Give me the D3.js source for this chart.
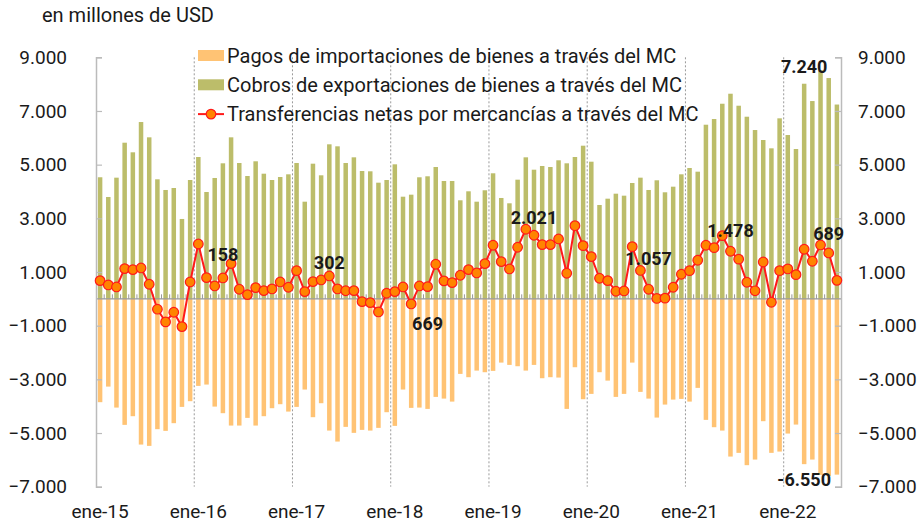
<!DOCTYPE html>
<meta charset="utf-8">
<script src="https://d3js.org/d3.v7.min.js"></script>
<style>
  body { margin: 0; background: #fff; }
  text { font-family: Roboto, "Liberation Sans", sans-serif; fill: #1a1a1a; }
</style>
<div id="my_dataviz"></div>
<script>

// categorias: meses de ene-15 a jul-22
var mesesAbrev = ["ene","feb","mar","abr","may","jun","jul","ago","sep","oct","nov","dic"];
var anios = ["15","16","17","18","19","20","21","22"];
var meses = [];
anios.forEach(function(a) {
  mesesAbrev.forEach(function(m) { meses.push(m + "-" + a); });
});
meses = meses.slice(0, 91);

// Cobros de exportaciones (millones USD)
var cobros = [
  4530, 3795, 4515, 5818, 5460, 6588, 6018, 4454, 4056, 4130, 2976, 4428,
  5285, 3981, 4503, 5050, 6018, 5061, 4577, 5125, 4663, 4428, 4540, 4640,
  5061, 3620, 5036, 4603, 5758, 5683, 5061, 5273, 4763, 4752, 4328, 4428,
  5012, 3806, 3881, 4529, 4566, 4912, 4391, 4391, 3672, 4007, 3620, 4045,
  4678, 3758, 3560, 4440, 5273, 4812, 4950, 4912, 5162, 5050, 5285, 5706,
  5110, 3497, 3732, 3918, 3844, 4316, 4515, 4056, 4417, 3970, 4179, 4640,
  4875, 4738, 6488, 6700, 7270, 7643, 7196, 6786, 6290, 5918, 5608, 6726,
  6104, 5583, 8015, 7370, 8520, 8227, 7240
];

// Pagos de importaciones (millones USD)
var pagos = [
  -3851, -3270, -4052, -4696, -4373, -5430, -5479, -4857, -4920, -4633, -4026, -3814,
  -3244, -3194, -4015, -4261, -4722, -4722, -4436, -4722, -4373, -4075, -3926, -4201,
  -4026, -3380, -4410, -3889, -4909, -5318, -4771, -4994, -4883, -4909, -4808, -4224,
  -4734, -3380, -4063, -4052, -4101, -3654, -3717, -3829, -2797, -2920, -2674, -2734,
  -2685, -2376, -2462, -2511, -2674, -2462, -2958, -2920, -2933, -4101, -2548, -3740,
  -3542, -2734, -3047, -3654, -3542, -2376, -3467, -3717, -4424, -3940, -3754, -3728,
  -3829, -3318, -4510, -4783, -4909, -5877, -5739, -6198, -5989, -4559, -5739, -5691,
  -5020, -4685, -6160, -5989, -6559, -6596, -6550
];

// Transferencias netas (millones USD)
var netas = [
  678, 518, 443, 1126, 1088, 1151, 543, -387, -860, -500, -1035, 629,
  2045, 790, 480, 778, 1311, 357, 158, 417, 305, 369, 629, 432,
  1050, 268, 641, 704, 853, 369, 302, 305, -104, -141, -488, 208,
  268, 443, -190, 480, 455, 1289, 669, 604, 879, 1088, 965, 1311,
  1996, 1386, 1114, 1922, 2592, 2369, 2021, 2019, 2231, 953, 2726, 1981,
  1572, 767, 678, 283, 294, 1944, 1057, 357, 15, 25, 432, 916,
  1050, 1437, 1996, 1907, 2354, 1773, 1478, 618, 300, 1374, -127, 1050,
  1114, 901, 1847, 1400, 2007, 1709, 689
];

var yTicks = [9000, 7000, 5000, 3000, 1000, -1000, -3000, -5000, -7000];
var xTickLabels = ["ene-15","ene-16","ene-17","ene-18","ene-19","ene-20","ene-21","ene-22"];

// etiquetas de datos (julio de cada anio)
var etiquetas = [
  {mes: "abr-16", valor: 1635, texto: "158"},
  {mes: "may-17", valor: 1337, texto: "302"},
  {mes: "may-18", valor: -935, texto: "669"},
  {mes: "jun-19", valor: 3013, texto: "2.021"},
  {mes: "ago-20", valor: 1505, texto: "1.057"},
  {mes: "jun-21", valor: 2529, texto: "1.478"},
  {mes: "jun-22", valor: 2436, texto: "689"},
  {mes: "mar-22", valor: 8674, texto: "7.240"},
  {mes: "mar-22", valor: -6734, texto: "-6.550"}
];

var series = [
  {nombre: "Pagos de importaciones de bienes a través del MC", tipo: "bar", color: "#FFC374"},
  {nombre: "Cobros de exportaciones de bienes a través del MC", tipo: "bar", color: "#BCBD6A"},
  {nombre: "Transferencias netas por mercancías a través del MC", tipo: "line", color: "#FF1A1A"}
];

var width = 918, height = 526;
var plotLeft = 96, plotRight = 841;

var svg = d3.select("#my_dataviz")
  .append("svg")
    .attr("width", width)
    .attr("height", height);

var x = d3.scaleBand()
  .domain(meses)
  .range([plotLeft, plotRight])
  .padding(0);

var y = d3.scaleLinear()
  .domain([-7000, 9000])
  .range([486.7, 57.3]);

var barW = x.step() * 0.55;
var fmt = function(v) { return d3.format(",")(v).replace(/,/g, "."); };
var centro = function(m) { return x(m) + x.bandwidth() / 2; };

// lineas punteadas entre anios
svg.append("g")
  .selectAll("line")
  .data(xTickLabels.slice(1))
  .enter()
  .append("line")
    .attr("x1", function(d) { return x(d); })
    .attr("x2", function(d) { return x(d); })
    .attr("y1", y(9000))
    .attr("y2", y(-7000))
    .attr("stroke", "#9a9a9a")
    .attr("stroke-width", 1)
    .attr("stroke-dasharray", "2,2");

// barras de pagos
svg.append("g")
  .selectAll("rect")
  .data(pagos)
  .enter()
  .append("rect")
    .attr("x", function(d, i) { return centro(meses[i]) - barW / 2; })
    .attr("y", y(0))
    .attr("width", barW)
    .attr("height", function(d) { return y(d) - y(0); })
    .style("fill", series[0].color);

// barras de cobros
svg.append("g")
  .selectAll("rect")
  .data(cobros)
  .enter()
  .append("rect")
    .attr("x", function(d, i) { return centro(meses[i]) - barW / 2; })
    .attr("y", function(d) { return y(d); })
    .attr("width", barW)
    .attr("height", function(d) { return y(0) - y(d); })
    .style("fill", series[1].color);

// eje horizontal en cero con marcas entre meses
svg.append("line")
  .attr("x1", plotLeft).attr("x2", plotRight)
  .attr("y1", y(0)).attr("y2", y(0))
  .attr("stroke", "#999").attr("stroke-width", 1.2);

svg.append("g")
  .selectAll("line")
  .data(meses.slice(1))
  .enter()
  .append("line")
    .attr("x1", function(d) { return x(d); })
    .attr("x2", function(d) { return x(d); })
    .attr("y1", y(0))
    .attr("y2", y(0) - 4.5)
    .attr("stroke", "#999")
    .attr("stroke-width", 1);

// ejes verticales
var axisLeft = d3.axisLeft(y).tickValues(yTicks).tickSize(-6).tickFormat(fmt).tickPadding(29);
var gl = svg.append("g").attr("transform", "translate(" + plotLeft + ",0)").call(axisLeft);
var axisRight = d3.axisRight(y).tickValues(yTicks).tickSize(-6).tickFormat(fmt).tickPadding(17);
var gr = svg.append("g").attr("transform", "translate(" + plotRight + ",0)").call(axisRight);
[gl, gr].forEach(function(g) {
  g.select(".domain").attr("stroke", "#bbb").attr("stroke-width", 1.5);
  g.selectAll(".tick line").attr("stroke", "#bbb").attr("stroke-width", 1.2);
  g.selectAll(".tick text")
    .style("font-size", "19px")
    .style("font-family", "Roboto, sans-serif")
    .attr("fill", "#1a1a1a");
});

// etiquetas del eje x
svg.append("g")
  .selectAll("text")
  .data(xTickLabels)
  .enter()
  .append("text")
    .attr("x", function(d) { return centro(d); })
    .attr("y", 518)
    .attr("text-anchor", "middle")
    .style("font-size", "19px")
    .text(function(d) { return d; });

// linea de transferencias netas
var linea = d3.line()
  .x(function(d, i) { return centro(meses[i]); })
  .y(function(d) { return y(d); });

svg.append("path")
  .datum(netas)
  .attr("d", linea)
  .attr("fill", "none")
  .attr("stroke", series[2].color)
  .attr("stroke-width", 2);

svg.append("g")
  .selectAll("circle")
  .data(netas)
  .enter()
  .append("circle")
    .attr("cx", function(d, i) { return centro(meses[i]); })
    .attr("cy", function(d) { return y(d); })
    .attr("r", 4.8)
    .style("fill", "#FF8400")
    .style("stroke", "#FF1A1A")
    .style("stroke-width", 1.2);

// etiquetas de datos
svg.append("g")
  .selectAll("text")
  .data(etiquetas)
  .enter()
  .append("text")
    .attr("x", function(d) { return centro(d.mes); })
    .attr("y", function(d) { return y(d.valor); })
    .attr("text-anchor", "middle")
    .attr("dominant-baseline", "central")
    .style("font-size", "18px")
    .style("font-weight", "bold")
    .text(function(d) { return d.texto; });

// titulo de unidades
svg.append("text")
  .attr("x", 42)
  .attr("y", 22)
  .style("font-size", "20px")
  .text("en millones de USD");

// leyenda
var leyenda = svg.append("g");
series.forEach(function(s, i) {
  var cy = 55.5 + i * 29.3;
  if (s.tipo === "bar") {
    leyenda.append("rect")
      .attr("x", 198).attr("y", cy - 5.5)
      .attr("width", 26).attr("height", 11)
      .style("fill", s.color);
  } else {
    leyenda.append("line")
      .attr("x1", 198).attr("x2", 224)
      .attr("y1", cy).attr("y2", cy)
      .attr("stroke", s.color).attr("stroke-width", 2);
    leyenda.append("circle")
      .attr("cx", 211).attr("cy", cy).attr("r", 4.8)
      .style("fill", "#FF8400").style("stroke", s.color).style("stroke-width", 1.2);
  }
  leyenda.append("text")
    .attr("x", 227)
    .attr("y", cy)
    .attr("dominant-baseline", "central")
    .style("font-size", "20px")
    .text(s.nombre);
});

</script>
